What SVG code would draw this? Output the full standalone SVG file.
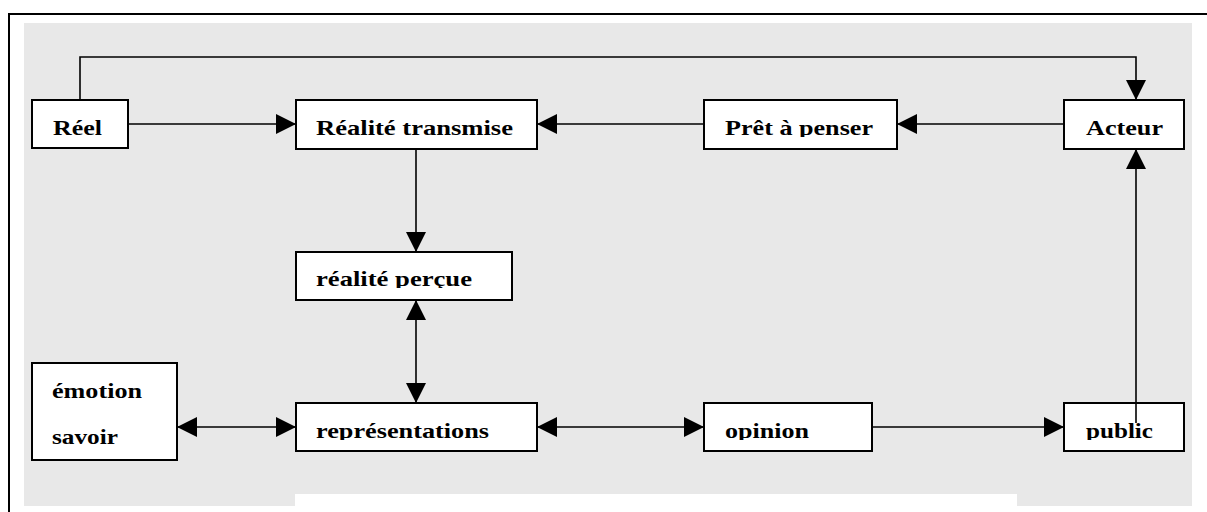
<svg xmlns="http://www.w3.org/2000/svg" width="1207" height="512" viewBox="0 0 1207 512">
<style>
.box{fill:#fff;stroke:#000;stroke-width:2}
.lbl{font-family:"Liberation Serif","Times New Roman",serif;font-weight:bold;font-size:22px;fill:#000}
.con{fill:none;stroke:#000;stroke-width:1.6}
</style>
<defs>
<marker id="ah" viewBox="0 0 20 20" refX="20" refY="10" markerWidth="20" markerHeight="20" markerUnits="userSpaceOnUse" orient="auto-start-reverse">
<path d="M0,0 L20,10 L0,20 Z" fill="#000"/>
</marker>
<clipPath id="c-rp" clipPathUnits="userSpaceOnUse"><rect x="296" y="252" width="216" height="36"/></clipPath>
<clipPath id="c-pp" clipPathUnits="userSpaceOnUse"><rect x="704" y="100" width="193" height="37"/></clipPath>
<clipPath id="c-bot" clipPathUnits="userSpaceOnUse"><rect x="0" y="403" width="1207" height="37"/></clipPath>
</defs>
<rect x="0" y="0" width="1207" height="512" fill="#fff"/>
<path d="M9,512 V14 H1207" fill="none" stroke="#000" stroke-width="2"/>
<rect x="24" y="23" width="1168" height="483" fill="#e8e8e8"/>
<rect x="295" y="494" width="722" height="12" fill="#fff"/>

<g id="connectors">
<path class="con" d="M80,100 V57 H1136 V100" marker-end="url(#ah)"/>
<path class="con" d="M128,124 H296" marker-end="url(#ah)"/>
<path class="con" d="M1064,124 H897" marker-end="url(#ah)"/>
<path class="con" d="M704,124 H537" marker-end="url(#ah)"/>
<path class="con" d="M416,149 V252" marker-end="url(#ah)"/>
<path class="con" d="M416,300 V403" marker-start="url(#ah)" marker-end="url(#ah)"/>
<path class="con" d="M177,427 H296" marker-start="url(#ah)" marker-end="url(#ah)"/>
<path class="con" d="M537,427 H704" marker-start="url(#ah)" marker-end="url(#ah)"/>
<path class="con" d="M872,427 H1064" marker-end="url(#ah)"/>
</g>

<g id="reel">
<rect class="box" x="32" y="100" width="96" height="48"/>
<text class="lbl" x="53" y="135" textLength="49" lengthAdjust="spacingAndGlyphs">Réel</text>
</g>
<g id="realite-transmise">
<rect class="box" x="296" y="100" width="241" height="49"/>
<text class="lbl" x="316" y="135" textLength="197" lengthAdjust="spacingAndGlyphs">Réalité transmise</text>
</g>
<g id="pret-a-penser">
<rect class="box" x="704" y="100" width="193" height="49"/>
<text class="lbl" x="725" y="135" textLength="148" lengthAdjust="spacingAndGlyphs" clip-path="url(#c-pp)">Prêt à penser</text>
</g>
<g id="acteur">
<rect class="box" x="1064" y="100" width="120" height="49"/>
<text class="lbl" x="1086" y="135" textLength="77" lengthAdjust="spacingAndGlyphs">Acteur</text>
</g>
<g id="realite-percue">
<rect class="box" x="296" y="252" width="216" height="48"/>
<text class="lbl" x="316" y="286" textLength="156" lengthAdjust="spacingAndGlyphs" clip-path="url(#c-rp)">réalité perçue</text>
</g>
<g id="emotion-savoir">
<rect class="box" x="32" y="363" width="145" height="97"/>
<text class="lbl" x="52" y="398" textLength="90" lengthAdjust="spacingAndGlyphs">émotion</text>
<text class="lbl" x="52" y="444" textLength="66" lengthAdjust="spacingAndGlyphs">savoir</text>
</g>
<g id="representations">
<rect class="box" x="296" y="403" width="241" height="48"/>
<text class="lbl" x="316" y="438" textLength="173" lengthAdjust="spacingAndGlyphs" clip-path="url(#c-bot)">représentations</text>
</g>
<g id="opinion">
<rect class="box" x="704" y="403" width="168" height="48"/>
<text class="lbl" x="725" y="438" textLength="84" lengthAdjust="spacingAndGlyphs" clip-path="url(#c-bot)">opinion</text>
</g>
<g id="public">
<rect class="box" x="1064" y="403" width="120" height="48"/>
<text class="lbl" x="1086" y="438" textLength="67" lengthAdjust="spacingAndGlyphs" clip-path="url(#c-bot)">public</text>
</g>
<g id="connector-public-acteur">
<path class="con" d="M1136,423 V149" marker-end="url(#ah)"/>
</g>
</svg>
